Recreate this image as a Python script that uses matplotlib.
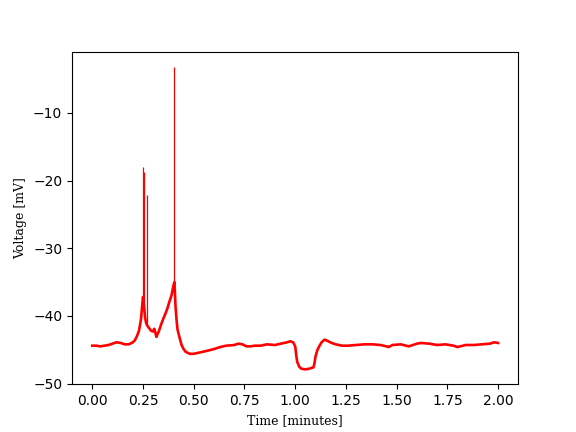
import matplotlib
matplotlib.use("Agg")
import matplotlib.pyplot as plt

time_min = [0.00, 0.02, 0.04, 0.06, 0.08, 0.10, 0.12, 0.14, 0.16, 0.18, 0.20, 0.21, 0.22, 0.23, 0.24, 0.245,
            0.25, 0.255, 0.26, 0.265, 0.27, 0.28, 0.29, 0.30, 0.305, 0.31, 0.316, 0.32, 0.33, 0.34, 0.35, 0.36,
            0.37, 0.38, 0.39, 0.40, 0.405, 0.41, 0.415, 0.42, 0.43, 0.44, 0.45, 0.46, 0.48, 0.50, 0.53, 0.56,
            0.60, 0.63, 0.66, 0.70, 0.72, 0.74, 0.76, 0.78, 0.80, 0.83, 0.86, 0.90, 0.93, 0.96, 0.975, 0.99,
            1.00, 1.005, 1.01, 1.02, 1.03, 1.05, 1.07, 1.09, 1.095, 1.10, 1.11, 1.12, 1.13, 1.145, 1.16, 1.18,
            1.20, 1.23, 1.26, 1.30, 1.34, 1.38, 1.42, 1.45, 1.46, 1.48, 1.52, 1.56, 1.60, 1.62, 1.66, 1.70,
            1.74, 1.78, 1.80, 1.84, 1.88, 1.92, 1.96, 1.98, 2.00]
voltage_mv = [-44.4, -44.4, -44.5, -44.4, -44.3, -44.1, -43.9, -44.0, -44.2, -44.2, -43.9, -43.6, -43.0, -42.2,
              -40.5, -38.8, -37.2, -38.5, -40.2, -41.0, -41.4, -41.8, -42.2, -42.3, -41.9, -42.4, -43.1, -42.8,
              -42.1, -41.2, -40.4, -39.7, -38.9, -37.9, -37.0, -35.5, -35.0, -38.5, -40.5, -42.0, -43.2, -44.3,
              -44.9, -45.3, -45.6, -45.6, -45.4, -45.2, -44.9, -44.6, -44.4, -44.3, -44.1, -44.2, -44.5, -44.5,
              -44.4, -44.4, -44.2, -44.3, -44.1, -43.9, -43.75, -43.9, -44.5, -45.8, -46.8, -47.5, -47.8, -47.9,
              -47.8, -47.6, -47.0, -46.0, -45.0, -44.4, -43.9, -43.5, -43.7, -44.0, -44.2, -44.4, -44.4, -44.3,
              -44.2, -44.2, -44.3, -44.5, -44.6, -44.3, -44.2, -44.5, -44.1, -44.0, -44.1, -44.3, -44.2, -44.4,
              -44.6, -44.3, -44.3, -44.2, -44.1, -43.9, -44.0]

spike_times = [0.248, 0.257, 0.270, 0.405]
spike_base = [-37.2, -38.5, -41.4, -35.0]
spike_peak = [-18.0, -18.8, -22.2, -3.2]

fig, ax = plt.subplots(figsize=(5.76, 4.32), dpi=100)
ax.plot(time_min, voltage_mv, color="red", lw=1.9)
ax.vlines(spike_times, spike_base, spike_peak, color="red", lw=0.9)
ax.set_xticks([0.0, 0.25, 0.5, 0.75, 1.0, 1.25, 1.5, 1.75, 2.0])
ax.set_xlabel("Time [minutes]", family="DejaVu Serif", fontsize=9)
ax.set_ylabel("Voltage [mV]", family="DejaVu Serif", fontsize=9)
fig.savefig("out.png", dpi=100)
